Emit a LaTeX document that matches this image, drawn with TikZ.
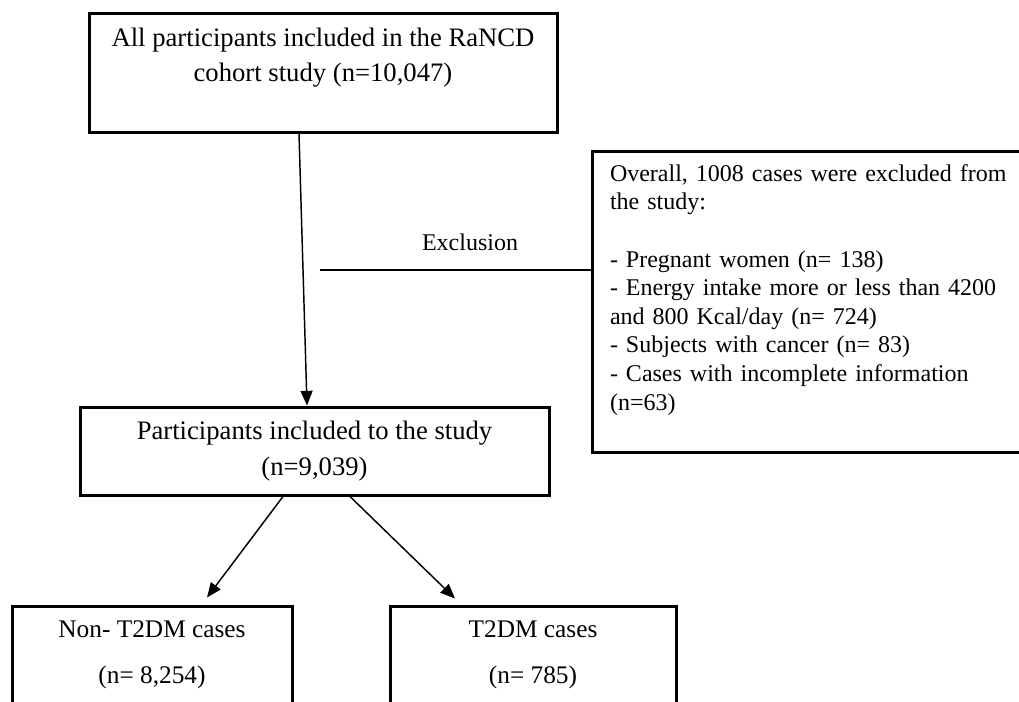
\documentclass[tikz,border=0pt]{standalone}
\usepackage{fontspec}
\setmainfont{Liberation Serif}
\usepackage{tikz}
\usetikzlibrary{arrows.meta,positioning,calc}

\begin{document}
\begin{tikzpicture}[
	x=0.75pt, y=-0.75pt,
	>={Triangle[length=11pt,width=9pt]},
	box/.style={draw, line width=2.25pt, align=center, inner sep=0pt, font=\fontsize{20}{26.5}\selectfont},
	casebox/.style={draw, line width=2.25pt, align=center, inner sep=0pt, minimum height=73.5pt, font=\fontsize{19}{22}\selectfont},
	exbox/.style={draw, line width=2.25pt, align=left, inner xsep=13.5pt, inner ysep=0pt, text width=312.75pt, minimum width=339.75pt, minimum height=225.75pt, font=\fontsize{18}{21.45}\selectfont},
	exlabel/.style={font=\fontsize{18}{21.45}\selectfont},
	link/.style={line width=1.1pt}
]
\useasboundingbox (0,0) rectangle (1019,701);
\clip (0,0) rectangle (1019,701);

\node[box, minimum width=351pt, minimum height=89.25pt] (cohort) at (323,72.5) {All participants included in the RaNCD\\cohort study (n=10,047)\\\mbox{}};
\node[box, minimum width=351.75pt, minimum height=66pt] (included) at (314.5,451) {Participants included to the study\\(n=9,039)};

\node[exbox] (excluded) at (818.5,301.5) {Overall, 1008 cases were excluded from\\the study:\\[21.45pt]
- Pregnant women (n= 138)\\- Energy intake more or less than 4200\\and 800 Kcal/day (n= 724)\\- Subjects with cancer (n= 83)\\- Cases with incomplete information\\(n=63)\\\mbox{}};

\node[casebox, minimum width=210pt] (nont2dm) at (152,655) {Non- T2DM cases\\[12.5pt](n= 8,254)};
\node[casebox, minimum width=214.5pt] (t2dm) at (533,655) {T2DM cases\\[12.5pt](n= 785)};

\coordinate (exfrom) at (320,270);
\node[exlabel] (exlab) at (470,242) {Exclusion};

\draw[->, link] ($(cohort.south)+(-24,0)$) -- ($(included.north)+(-7.5,0)$);
\draw[link] (exfrom) -- (exfrom -| excluded.west);

\draw[->, link] ($(included.south)+(-31.5,0)$) -- ($(nont2dm.north)+(55,-7)$);
\draw[->, link] ($(included.south)+(35.5,0)$) -- ($(t2dm.north)+(-78,-6)$);

\end{tikzpicture}
\end{document}
